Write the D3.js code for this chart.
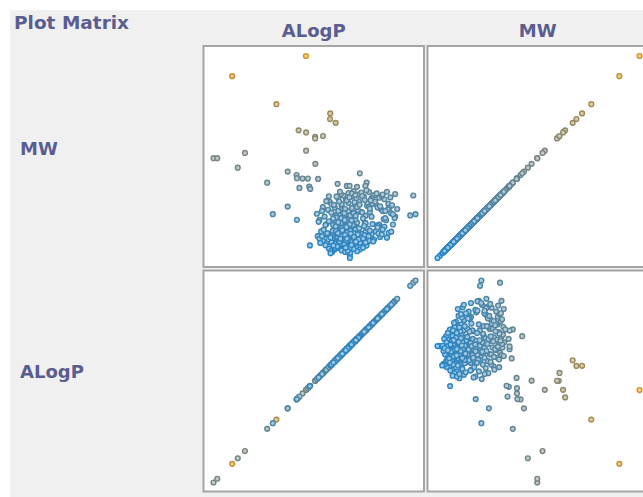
<!DOCTYPE html>
<html>
<head>
<meta charset="utf-8">
<script src="https://cdn.jsdelivr.net/npm/d3@7/dist/d3.min.js"></script>
<style>
  body { margin: 0; background: #fff; }
  .label { font-family: "DejaVu Sans", sans-serif; font-weight: bold; fill: #5a5d8f; }
</style>
</head>
<body>
<div id="chartArea"></div>
<script>
// data
var title = "Plot Matrix";
var colVars = ["ALogP", "MW"];
var rowVars = ["MW", "ALogP"];

var alogp = [
    1.11, -3.21, -0.62, 2.53, 2.52, 2.85, 0.68, 1.12, 1.65, 1.65,
    2.11, 1.12, -4.30, -4.08, -2.46, -2.88, 1.66, 0.04, -1.16, 0.56,
    0.58, 0.91, 1.22, 1.82, 0.73, 1.30, 1.36, 4.26, 2.96, 3.50,
    3.66, 4.10, 4.66, 4.59, 6.33, 7.39, 0.04, -0.83, 0.58, 6.33,
    7.21, 7.52, 1.34, 3.68, 3.68, 2.56, 2.65,
    // cluster
    2.7, 2.9, 3.1, 3.3, 3.5, 3.7, 3.9, 4.1, 2.8, 3.0,
    3.2, 3.4, 3.6, 3.8, 4.0, 2.65, 2.85, 3.05, 3.25, 3.45,
    3.65, 3.85, 4.05, 4.2, 2.75, 2.95, 3.15, 3.35, 3.55, 3.75,
    3.95, 4.15, 2.7, 2.9, 3.1, 3.3, 3.5, 3.7, 3.9, 4.1,
    2.8, 3.0, 3.2, 3.4, 3.6, 3.8, 4.0, 2.9, 3.1, 3.3,
    3.5, 3.7, 3.9, 2.65, 3.15, 3.35, 3.55, 3.75, 3.95, 3.45,
    3.25, 3.05, 2.95, 3.6, 3.8, 4.0, 3.4, 3.2, 2.85, 3.65,
    3.85, 3.3, 3.5, 3.7, 3.9, 4.1, 2.75, 3.15, 3.45, 3.0,
    3.58, 3.22, 3.42, 3.62, 3.82, 3.12, 3.32, 3.52, 3.72, 3.92,
    3.02, 3.48, 3.68, 3.18, 3.38, 2.88, 3.78, 4.02, 3.28, 3.58,
    1.8, 2.0, 2.2, 2.4, 2.3, 2.5, 2.1, 1.9, 2.45, 2.6,
    2.8, 3.0, 3.2, 3.4, 3.6, 3.8, 4.0, 4.3, 4.5, 4.7,
    4.9, 4.4, 4.6, 4.8, 4.25, 2.55, 3.7, 4.1, 2.35, 2.15,
    4.35, 4.55, 2.25, 1.95, 4.65, 2.75, 3.9, 4.45, 2.05, 4.2,
    1.75, 1.9, 2.1, 2.3, 2.5, 2.2, 2.4, 2.6, 2.05, 1.85,
    4.3, 4.55, 4.68, 4.95, 5.12, 5.28, 5.52, 5.66, 5.93, 6.08,
    6.3, 6.45, 5.2, 5.4, 5.6, 5.8, 6.0, 4.4, 4.6, 4.8,
    5.0, 4.2, 4.0, 3.6, 3.2, 2.8, 3.0, 3.4, 3.8, 4.15,
    4.6, 5.0, 5.35, 4.45, 2.7, 2.45, 2.25, 6.2, 5.75, 4.85,
    3.0, 3.3, 3.6, 3.9, 4.2, 4.5, 4.8, 5.1, 5.4, 5.7,
    3.45, 3.75, 4.05, 4.35, 4.65, 4.95, 5.25, 5.55, 5.85, 3.15,
    2.3, 2.6, 2.9, 3.2, 3.5, 3.8, 4.1, 4.4, 4.7, 5.0,
    5.3, 5.6, 5.9, 6.15, 2.45, 2.75, 3.05, 3.35, 3.65, 3.95,
    4.25, 4.55, 4.85, 5.15, 5.45, 5.75, 6.05, 3.1, 4.0, 4.9,
    4.45, 4.7, 4.95, 5.2, 5.45, 5.7, 5.95, 6.2, 4.6, 4.85,
    5.1, 5.35, 5.6, 5.85, 4.52, 4.78, 5.04, 5.3, 5.55, 6.1,
    2.55, 2.82, 3.08, 3.36, 3.62, 3.88, 4.14, 4.28, 2.68, 2.94,
    3.21, 3.47, 3.73, 3.99, 4.22, 2.6, 2.87, 3.13, 3.39, 3.66,
    3.92, 4.18, 2.72, 2.98, 3.24, 3.51, 3.77, 4.03, 3.56, 3.44
];

var mw = [
    1233, 1126, 977, 928, 898, 878, 838, 827, 804, 795,
    808, 730, 690, 690, 718, 640, 660, 619, 560, 601,
    584, 582, 582, 580, 532, 539, 527, 610, 554, 543,
    543, 538, 560, 543, 500, 492, 433, 393, 363, 380,
    386, 393, 227, 172, 160, 200, 193,
    // cluster
    232, 245, 228, 251, 236, 242, 229, 255, 262, 270,
    258, 266, 274, 261, 279, 284, 291, 288, 296, 282,
    299, 287, 302, 294, 310, 318, 306, 314, 321, 309,
    326, 317, 335, 342, 331, 347, 338, 352, 340, 348,
    360, 368, 357, 372, 364, 377, 366, 388, 395, 383,
    392, 386, 398, 255, 240, 226, 248, 223, 245, 260,
    276, 300, 265, 287, 296, 312, 304, 320, 327, 330,
    335, 290, 278, 268, 281, 270, 298, 345, 355, 350,
    315, 236, 244, 257, 250, 282, 262, 296, 305, 292,
    252, 325, 341, 372, 362, 376, 360, 384, 404, 410,
    276, 301, 262, 288, 238, 224, 250, 262, 210, 198,
    206, 214, 200, 192, 205, 212, 238, 220, 265, 244,
    274, 288, 300, 252, 205, 185, 188, 196, 292, 310,
    268, 281, 228, 240, 226, 218, 208, 215, 276, 250,
    395, 362, 430, 340, 458, 380, 416, 445, 410, 352,
    405, 348, 437, 379, 452, 333, 417, 366, 447, 398,
    372, 420, 446, 338, 409, 361, 428, 402, 345, 433,
    448, 460, 440, 452, 438, 428, 410, 420, 425, 415,
    385, 340, 330, 370, 370, 355, 335, 392, 372, 405,
    478, 492, 505, 515, 498, 486, 510, 494, 480, 472,
    470, 485, 476, 508, 520, 478, 503, 490, 512, 500,
    462, 401, 487, 446, 466, 503, 431, 489, 455, 472,
    428, 497, 418, 440, 488, 442, 460, 398, 481, 456,
    443, 468, 422, 459, 435, 410, 482, 512, 494, 466,
    262, 318, 287, 301, 272, 326, 294, 338, 242, 305,
    258, 290, 311, 268, 330, 276, 248, 322, 285, 300,
    268, 214, 247, 232, 219, 266, 285, 241, 305, 222,
    276, 253, 289, 238, 318, 243, 304, 262, 283, 211,
    272, 258, 226, 292, 308, 263, 229, 246, 198, 215
];

// layout
const width = 643, height = 497;
const colX = [203.5, 427.5];
const rowY = [46, 270.5];
const panelW = 220.5, panelH = 221;
const pad = { left: 10, right: 8.5, top: 10, bottom: 9 };
const rowLabelShift = [-2, -3];

var columns = { ALogP: alogp, MW: mw };
var points = alogp.map(function (a, i) { return { ALogP: a, MW: mw[i] }; });

var mwExt = d3.extent(mw);
var cScale = d3.scaleLinear()
    .domain([mwExt[0], (mwExt[0] + mwExt[1]) / 2, mwExt[1]])
    .range(["#2791dc", "#84918c", "#eda01a"]);

var svg = d3.select("#chartArea").append("svg")
    .attr("width", width)
    .attr("height", height);

svg.append("rect")
    .attr("x", 10).attr("y", 10)
    .attr("width", width - 10).attr("height", height - 10)
    .attr("fill", "#f0f0f0");

svg.append("text")
    .attr("class", "label")
    .attr("x", 14).attr("y", 29)
    .style("font-size", "18.5px")
    .text(title);

// column headers
colVars.forEach(function (v, c) {
    svg.append("text")
        .attr("class", "label")
        .attr("x", colX[c] + panelW / 2).attr("y", 37)
        .attr("text-anchor", "middle")
        .style("font-size", "18px")
        .text(v);
});

// row labels
rowVars.forEach(function (v, r) {
    svg.append("text")
        .attr("class", "label")
        .attr("x", 20).attr("y", rowY[r] + panelH / 2 + rowLabelShift[r])
        .style("font-size", "18px")
        .text(v);
});

// draw each cell
rowVars.forEach(function (yVar, r) {
    colVars.forEach(function (xVar, c) {
        var x0 = colX[c], y0 = rowY[r];
        var xScale = d3.scaleLinear()
            .domain(d3.extent(columns[xVar]))
            .range([x0 + pad.left, x0 + panelW - pad.right]);
        var yScale = d3.scaleLinear()
            .domain(d3.extent(columns[yVar]))
            .range([y0 + panelH - pad.bottom, y0 + pad.top]);

        var id = "clip" + r + c;
        svg.append("clipPath").attr("id", id)
            .append("rect")
            .attr("x", x0).attr("y", y0)
            .attr("width", panelW).attr("height", panelH);

        svg.append("rect")
            .attr("x", x0).attr("y", y0)
            .attr("width", panelW).attr("height", panelH)
            .attr("fill", "#fff")
            .attr("stroke", "#a4a4a4")
            .attr("stroke-width", 2);

        svg.append("g")
            .attr("clip-path", "url(#" + id + ")")
            .selectAll("circle")
            .data(points)
            .enter()
            .append("circle")
            .attr("cx", function (d) { return xScale(d[xVar]); })
            .attr("cy", function (d) { return yScale(d[yVar]); })
            .attr("r", 2.4)
            .attr("fill", function (d) { return d3.interpolateRgb(cScale(d.MW), "#fff")(0.5); })
            .attr("stroke", function (d) { return d3.color(cScale(d.MW)).darker(0.25); })
            .attr("stroke-width", 1.4);
    });
});
</script>
</body>
</html>
